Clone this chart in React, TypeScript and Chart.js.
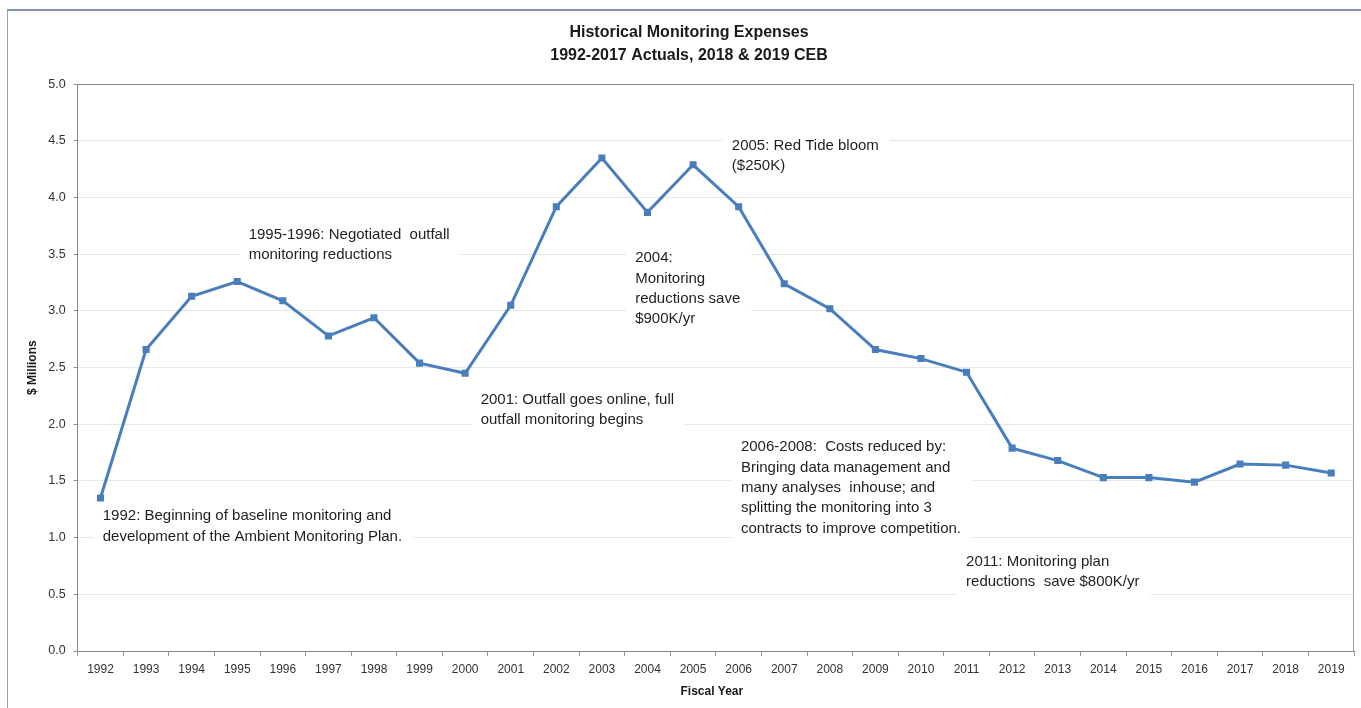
import React, { useEffect, useRef } from "react";
import { Chart, registerables } from "chart.js";

Chart.register(...registerables);

// ---------- data ----------
const years = [
  "1992", "1993", "1994", "1995", "1996", "1997", "1998", "1999", "2000", "2001",
  "2002", "2003", "2004", "2005", "2006", "2007", "2008", "2009", "2010", "2011",
  "2012", "2013", "2014", "2015", "2016", "2017", "2018", "2019",
];
const expenses = [
  1.35, 2.66, 3.13, 3.26, 3.09, 2.78, 2.94, 2.54, 2.45, 3.05,
  3.92, 4.35, 3.87, 4.29, 3.92, 3.24, 3.02, 2.66, 2.58, 2.46,
  1.79, 1.68, 1.53, 1.53, 1.49, 1.65, 1.64, 1.57,
];
const yMin = 0;
const yMax = 5;
const yStep = 0.5;

const titleLines = ["Historical Monitoring Expenses", "1992-2017 Actuals, 2018 & 2019 CEB"];
const yAxisTitle = "$ Millions";
const xAxisTitle = "Fiscal Year";

const noteTexts: string[][] = [
  ["1992: Beginning of baseline monitoring and", "development of the Ambient Monitoring Plan."],
  ["1995-1996: Negotiated  outfall", "monitoring reductions"],
  ["2001: Outfall goes online, full", "outfall monitoring begins"],
  ["2004:", "Monitoring", "reductions save", "$900K/yr"],
  ["2005: Red Tide bloom", "($250K)"],
  ["2006-2008:  Costs reduced by:", "Bringing data management and", "many analyses  inhouse; and", "splitting the monitoring into 3", "contracts to improve competition."],
  ["2011: Monitoring plan", "reductions  save $800K/yr"],
];
// anchor of each note's first text line: category index (fractional) and value
const noteCategoryPos = [0.05, 3.25, 8.34, 11.73, 13.85, 14.05, 18.99];
const noteValuePos = [1.19, 3.67, 2.22, 3.465, 4.458, 1.797, 0.788];

// ---------- styles ----------
const FONT_FAMILY = "'Liberation Sans', Arial, sans-serif";
const LINE_COLOR = "#4a7ebb";
const NOTE_FONT = `15px ${FONT_FAMILY}`;
const NOTE_LINE_H = 20.3;

const overlayPlugin = {
  id: "overlay",
  beforeDatasetsDraw(chart: any) {
    const { ctx, chartArea, scales } = chart;
    const xs = scales.x;
    const ys = scales.y;
    ctx.save();
    // right border of the plot area
    ctx.strokeStyle = "#a0a0a0";
    ctx.lineWidth = 1;
    ctx.beginPath();
    const rx = Math.round(chartArea.right) - 0.5;
    ctx.moveTo(rx, chartArea.top);
    ctx.lineTo(rx, chartArea.bottom);
    ctx.stroke();

    // annotation boxes
    const x0 = xs.getPixelForValue(0);
    const dx = xs.getPixelForValue(1) - x0;
    ctx.font = NOTE_FONT;
    ctx.textBaseline = "middle";
    ctx.textAlign = "left";
    noteTexts.forEach((lines, i) => {
      const px = x0 + noteCategoryPos[i] * dx;
      const py = ys.getPixelForValue(noteValuePos[i]);
      const w = Math.max(...lines.map((l) => ctx.measureText(l).width));
      ctx.fillStyle = "#ffffff";
      ctx.fillRect(px - 9, py - 13, w + 20, (lines.length - 1) * NOTE_LINE_H + 26);
      ctx.fillStyle = "#1f1f1f";
      lines.forEach((l, j) => ctx.fillText(l, px, py + j * NOTE_LINE_H));
    });
    ctx.restore();
  },
  afterDraw(chart: any) {
    const { ctx, chartArea } = chart;
    ctx.save();
    ctx.fillStyle = "#1a1a1a";
    ctx.textAlign = "center";
    ctx.textBaseline = "middle";
    ctx.font = `bold 16px ${FONT_FAMILY}`;
    ctx.fillText(titleLines[0], 689, 33);
    ctx.fillText(titleLines[1], 689, 56);

    ctx.font = `bold 12px ${FONT_FAMILY}`;
    ctx.fillText(xAxisTitle, (chartArea.left + chartArea.right) / 2 - 4, 692);

    ctx.translate(33, (chartArea.top + chartArea.bottom) / 2);
    ctx.rotate(-Math.PI / 2);
    ctx.fillText(yAxisTitle, 0, 0);
    ctx.restore();
  },
};

export default function App() {
  const canvasRef = useRef<HTMLCanvasElement | null>(null);

  useEffect(() => {
    document.body.style.margin = "0";
    const canvas = canvasRef.current;
    if (!canvas) return;
    const chart = new Chart(canvas, {
      type: "line",
      data: {
        labels: years,
        datasets: [
          {
            label: "Monitoring Expenses",
            data: expenses,
            borderColor: LINE_COLOR,
            backgroundColor: LINE_COLOR,
            borderWidth: 3,
            tension: 0,
            pointStyle: "rect",
            pointRadius: 5,
            pointBorderWidth: 0,
            pointBackgroundColor: LINE_COLOR,
            fill: false,
          },
        ],
      },
      options: {
        animation: false,
        responsive: false,
        layout: { padding: { left: 8, right: 7, top: 84.3, bottom: 0 } },
        plugins: {
          legend: { display: false },
          title: { display: false },
          tooltip: { enabled: false },
        },
        scales: {
          x: {
            type: "category",
            offset: true,
            grid: {
              offset: true,
              drawOnChartArea: false,
              drawTicks: true,
              tickLength: 5,
              color: "#9a9a9a",
            },
            border: { color: "#8a8a8a", width: 1 },
            ticks: {
              autoSkip: false,
              maxRotation: 0,
              padding: 6,
              color: "#333333",
              font: { family: FONT_FAMILY, size: 12 },
            },
            afterFit: (s: any) => {
              s.height = 57;
            },
          },
          y: {
            min: yMin,
            max: yMax,
            ticks: {
              stepSize: yStep,
              padding: 8,
              color: "#333333",
              font: { family: FONT_FAMILY, size: 12.5 },
              callback: (v: any) => Number(v).toFixed(1),
            },
            grid: {
              color: (c: any) => (c.tick && c.tick.value === yMax ? "#8a8a8a" : "#e6e6e6"),
              tickColor: "#8a8a8a",
              tickLength: 4,
              drawTicks: true,
            },
            border: { color: "#8a8a8a", width: 1 },
            afterFit: (s: any) => {
              s.width = 69.7;
            },
          },
        },
      },
      plugins: [overlayPlugin],
    });
    return () => chart.destroy();
  }, []);

  return (
    <div
      style={{
        position: "fixed",
        left: 0,
        top: 0,
        width: 1361,
        height: 708,
        background: "#ffffff",
        overflow: "hidden",
      }}
    >
      <div
        style={{
          position: "absolute",
          left: 7,
          top: 9,
          right: -2,
          bottom: -2,
          borderTop: "2px solid #7f93b5",
          borderLeft: "1px solid #a0a0a0",
        }}
      />
      <canvas
        ref={canvasRef}
        width={1361}
        height={708}
        style={{ position: "absolute", left: 0, top: 0, width: 1361, height: 708 }}
      />
    </div>
  );
}
